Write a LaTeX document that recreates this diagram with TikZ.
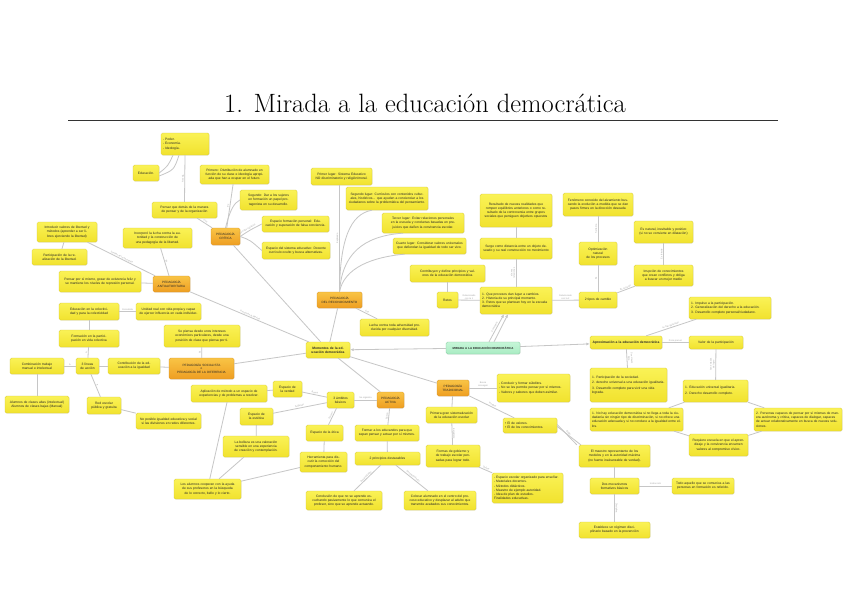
\documentclass[tikz,border=0pt]{standalone}
\usepackage{fontspec}
\newfontfamily\nodefont{Liberation Sans}
\usetikzlibrary{arrows.meta,shadows}
\definecolor{yTop}{HTML}{FAF256}
\definecolor{yBot}{HTML}{F1E22E}
\definecolor{yDraw}{HTML}{D6C838}
\definecolor{oTop}{HTML}{F9C445}
\definecolor{oBot}{HTML}{EE9E22}
\definecolor{oDraw}{HTML}{D6922A}
\definecolor{gTop}{HTML}{C6F6D8}
\definecolor{gBot}{HTML}{A8EBC2}
\definecolor{gDraw}{HTML}{86C9A0}
\definecolor{lineGray}{HTML}{C6C6C6}
\definecolor{lblGray}{HTML}{A5A5A5}
\newcommand\fsNode{\nodefont\fontsize{3.3}{4.2}\selectfont}
\newcommand\fsOrange{\nodefont\fontsize{3.1}{3.8}\selectfont}
\newcommand\fsGreen{\nodefont\fontsize{2.9}{3.5}\selectfont\bfseries}
\newcommand\fsLabel{\nodefont\fontsize{2.3}{2.7}\selectfont}
\newcommand\cnode[8][]{%
  \pgfmathsetmacro\cx{(#4+#6)/2}\pgfmathsetmacro\cy{(#5+#7)/2}%
  \pgfmathsetmacro\cw{#6-#4}\pgfmathsetmacro\ch{#7-#5}\pgfmathsetmacro\tw{#6-#4-4}%
  \node[#2, minimum width=\cw pt, minimum height=\ch pt, text width=\tw pt, #1] (#3) at (\cx,\cy) {#8};}
\tikzset{
  base/.style={rounded corners=1.5pt, draw=yDraw, line width=0.35pt, top color=yTop, bottom color=yBot,
    inner xsep=2pt, inner ysep=0.5pt, font=\fsNode, text=black!85, align=center,
    drop shadow={opacity=0.18, shadow xshift=0.5pt, shadow yshift=-0.6pt}},
  yb/.style={base},
  yl/.style={base, align=left},
  ob/.style={base, draw=oDraw, top color=oTop, bottom color=oBot, font=\fsOrange},
  gb/.style={base, draw=gDraw, top color=gTop, bottom color=gBot, font=\fsGreen},
  edge/.style={draw=lineGray, line width=0.8pt},
  arr/.style={-{Latex[length=3.5pt,width=3pt]}},
  lbl/.style={font=\fsLabel, text=lblGray, sloped, above, inner sep=0.6pt, align=center},
}
\begin{document}
\begin{tikzpicture}[x=1pt,y=-1pt]
\useasboundingbox[fill=white] (0,0) rectangle (848,599);
% title
\node[font=\fontsize{26.5}{31}\selectfont] (title) at (425,103) {1. Mirada a la educación democrática};
\coordinate (ruleL) at (68,120);
\coordinate (ruleR) at (778,120);
\draw[line width=0.5pt, black!80] (ruleL) -- (ruleR);

% ---- nodes ----
\cnode{yl}{n1}{161}{133}{209}{155}{- Poder.\\- Economía.\\- Ideología.}
\cnode{yb}{n2}{133}{165}{159}{181}{Educación.}
\cnode{yb}{n3}{152}{202}{217}{218}{Pensar que detrás de la manera de pensar y de la organización}
\cnode{ob}{n4}{211}{228}{240}{245}{PEDAGOGÍA\\CRÍTICA}
\cnode{yb}{n5}{200}{165}{269}{184}{Primero: Distribución de alumnado en función de su clase e ideología apropiada que han a ocupar en el futuro.}
\cnode{yb}{n6}{240}{190}{297}{210}{Segundo: Dar a los sujetos en formación un papel protagonista en su desarrollo.}
\cnode{yb}{n7}{262}{216}{329}{232}{Espacio formación personal: Educación y superación de falsa conciencia.}
\cnode{yb}{n8}{262}{242}{330}{259}{Espacio del sistema educativo: Docente currículo oculto y busca alternativas.}
\cnode{yb}{n9}{37}{222}{97}{242}{Introducir valores de libertad y métodos (aprender a ser libres ejerciendo la libertad)}
\cnode{yb}{n10}{32}{249}{87}{265}{Participación de la realización de la libertad.}
\cnode{yb}{n11}{123}{228}{192}{248}{Incorporó la lucha contra la autoridad y la construcción de una pedagogía de la libertad.}
\cnode{ob}{n12}{153}{276}{190}{292}{PEDAGOGÍA\\ANTIAUTORITARIA}
\cnode{yb}{n13}{59}{271}{141}{292}{Pensar por sí mismo, gozar de existencia feliz y se mantiene los niveles de represión personal.}
\cnode{yb}{n14}{59}{303}{119}{320}{Educación en la colectividad y para la colectividad}
\cnode{yb}{n15}{136}{303}{201}{320}{Unidad real con vida propia y capaz de ejercer influencia en cada individuo.}
\cnode{yb}{n16}{59}{330}{119}{347}{Formación en la participación en vida colectiva}
\cnode{yb}{n17}{10}{358}{64}{374}{Combinación trabajo manual e intelectual}
\cnode{yb}{n18}{76}{358}{99}{374}{3 líneas de acción}
\cnode{yb}{n19}{108}{358}{160}{374}{Contribución de la educación a la igualdad}
\cnode{ob}{n20}{169}{358}{234}{379}{PEDAGOGÍA SOCIALISTA\\o\\PEDAGOGÍA DE LA DIFERENCIA}
\cnode{yb}{n21}{164}{325}{240}{347}{Se piensa desde unos intereses económicos particulares, desde una posición de clase que piensa por ti.}
\cnode{yb}{n22}{5}{396}{69}{413}{Alumnos de clases altas (intelectual)\\Alumnos de clases bajas (Manual)}
\cnode{yb}{n23}{87}{397}{121}{414}{Red escolar\\pública y gratuita}
\cnode{yb}{n24}{136}{413}{201}{429}{No posible igualdad educativa y social si las divisiones en redes diferentes.}
\cnode{yb}{n25}{191}{385}{267}{402}{Aplicación de método a un espacio de experiencias y de problemas a resolver.}
\cnode{yb}{n26}{273}{381}{302}{397}{Espacio de la verdad}
\cnode{yb}{n27}{240}{408}{273}{425}{Espacio de la estética}
\cnode{yb}{n28}{223}{436}{289}{457}{La belleza es una valoración sensible en una experiencia de creación y contemplación.}
\cnode{yb}{n29}{174}{479}{241}{499}{Los alumnos cooperan con la ayuda de sus profesores en la búsqueda de lo correcto, bello y lo cierto.}
\cnode{yb}{n30}{327}{392}{354}{408}{3 ámbitos\\básicos}
\cnode{yb}{n31}{306}{425}{343}{441}{Espacio de la ética}
\cnode{yb}{n32}{300}{452}{347}{472}{Herramienta para discutir la corrección del comportamiento humano.}
\cnode{ob}{n33}{377}{392}{404}{408}{PEDAGOGÍA\\ACTIVA}
\cnode{yb}{n34}{355}{425}{419}{441}{Formar a los educandos para que sepan pensar y actuar por sí mismos.}
\cnode{yb}{n35}{355}{452}{420}{465}{2 principios destacables}
\cnode{yb}{n36}{306}{491}{382}{510}{Conclusión de que no se aprende escuchando pasivamente lo que comunica el profesor, sino que se aprende actuando.}
\cnode{yb}{n37}{404}{491}{476}{510}{Colocar alumnado en el centro del proceso educativo y desplazar al adulto que transmite acabados sus conocimientos.}
\cnode[font=\fsNode\bfseries]{yb}{n38}{306}{342}{350}{358}{Momentos de la educación democrática}
\cnode{ob}{n39}{317}{292}{362}{308}{PEDAGOGÍA\\DEL RECONOCIMIENTO}
\cnode{yb}{n40}{311}{168}{372}{185}{Primer lugar: Sistema Educativo NO discriminatorio y religión/moral.}
\cnode{yb}{n41}{346}{187}{428}{210}{Segundo lugar: Currículos con contenidos culturales, históricos... que ayuden a concienciar a los ciudadanos sobre la problemática del pensamiento.}
\cnode{yb}{n42}{382}{213}{464}{233}{Tercer lugar: Evitar relaciones personales en la escuela y conductas basadas en prejuicios que dañen la convivencia escolar.}
\cnode{yb}{n43}{393}{238}{466}{254}{Cuarto lugar: Considerar valores universales que defiendan la igualdad de todo ser vivo.}
\cnode{yb}{n44}{360}{319}{429}{336}{Lucha contra toda adversidad producida por cualquier diversidad.}
\cnode{yb}{n45}{410}{265}{485}{282}{Contribuyen y define principios y valores de la educación democrática}
\cnode{yb}{n46}{437}{292}{458}{308}{Retos}
\cnode{yl}{n47}{480}{287}{552}{314}{1. Que procesos dan lugar a cambios.\\2. Historia de su principal momento.\\3. Retos que se plantean hoy en la escuela democrática}
\cnode{gb}{n48}{446}{342}{520}{354}{MIRADA A LA EDUCACIÓN DEMOCRÁTICA}
\cnode{yb}{n49}{480}{194}{552}{227}{Resultado de nuevas realidades que rompen equilibrios anteriores o como resultado de la controversia entre grupos sociales que persiguen objetivos opuestos}
\cnode{yb}{n50}{480}{238}{552}{259}{Surge como distancia entre un objeto deseado y su real construcción no movimiento}
\cnode{yb}{n51}{563}{193}{633}{216}{Fenómeno conocido del alzamiento buscando la evolución a medida que se dan pasos firmes en la dirección deseada}
\cnode{yb}{n52}{579}{242}{617}{265}{Optimización\\natural\\de los procesos}
\cnode{yb}{n53}{634}{221}{693}{243}{Es natural, inevitable y positivo (si no se convierte en dilatación)}
\cnode{yb}{n54}{579}{292}{617}{308}{2 tipos de cambio}
\cnode{yb}{n55}{634}{265}{693}{286}{Irrupción de conocimientos que crean conflictos y obliga a buscar un mejor medio}
\cnode{yl}{n56}{689}{297}{771}{319}{1. Impulso a la participación.\\2. Generalización del derecho a la educación.\\3. Desarrollo completo personal/ciudadano.}
\cnode[font=\fsNode\bfseries]{yb}{n57}{590}{336}{662}{349}{Aproximación a la educación democrática}
\cnode{yb}{n58}{689}{336}{743}{349}{Valor de la participación}
\cnode{yl}{n59}{590}{368}{667}{402}{1. Participación de la sociedad.\\[1.5pt]2. derecho universal a una educación igualitaria.\\[1.5pt]3. Desarrollo completo para vivir una vida lograda.}
\cnode{yl}{n60}{683}{380}{748}{402}{1. Educación universal igualitaria.\\[2pt]2. Derecho desarrollo completo.}
\cnode{yl}{n61}{590}{408}{683}{431}{1. No hay educación democrática si no llega a toda la ciudadanía sin ningún tipo de discriminación, si no ofrece una educación adecuada y si no conduce a la igualdad entre ellos.}
\cnode{yl}{n62}{754}{408}{842}{431}{2. Personas capaces de pensar por sí mismas de manera autónoma y crítica, capaces de dialogar, capaces de actuar colaborativamente en busca de nuevas soluciones.}
\cnode{yb}{n63}{689}{434}{748}{456}{Requiere escuela en que el aprendizaje y la convivencia encarnen valores al compromiso cívico.}
\cnode{ob}{n64}{437}{380}{469}{396}{PEDAGOGÍA\\TRADICIONAL}
\cnode{yl}{n65}{497}{374}{570}{402}{- Conducir y formar súbditos.\\- No se les permite pensar por sí mismos.\\- Valores y saberes que deben asimilar.}
\cnode{yb}{n66}{426}{407}{477}{423}{Primera gran sistematización de la educación escolar}
\cnode{yl}{n67}{503}{418}{557}{433}{• El de valores.\\• El de los conocimientos.}
\cnode{yb}{n68}{426}{445}{480}{467}{Formas de gobierno y de trabajo escolar pensadas para lograr todo.}
\cnode{yl}{n69}{492}{473}{563}{503}{- Espacio escolar organizado para enseñar.\\- Materiales docentes.\\- Métodos didácticos.\\- Maestro de ejemplo autoridad.\\- Idea de plan de estudios.\\Finalidades educativas.}
\cnode{yb}{n70}{579}{445}{650}{467}{El maestro representante de los modelos y en la autoridad máxima (no fuente inalcanzable de verdad).}
\cnode{yb}{n71}{590}{478}{639}{494}{Dos mecanismos\\formativos básicos}
\cnode{yb}{n72}{672}{478}{734}{494}{Todo aquello que se comunica a las personas en formación es referido.}
\cnode{yb}{n73}{579}{522}{650}{538}{Establece un régimen disciplinario basado en la prevención}

% ---- connectors ----
\draw[edge] ([xshift=-12pt]n1.south) .. controls (168,166) .. (n2.east);
\draw[edge] ([xshift=-6pt]n1.south) .. controls (174,170) .. ([yshift=-3pt]n2.east);
\draw[edge] (n1.south) -- node[lbl]{Revela} (n3.north);
\draw[edge] (n3) -- node[lbl]{Con} (n4);
\draw[edge] (n4) -- node[lbl]{Es} (n5);
\draw[edge] (n4.north) .. controls (230,210) and (234,203) .. (n6.west);
\draw[edge] (n4.east) .. controls (250,230) .. node[lbl, pos=0.4]{Con dos espacios} (n7.west);
\draw[edge] (n4.east) .. controls (250,240) .. (n8.west);
\draw[edge] (n4) -- (n38);
\draw[edge] (n11) -- node[lbl]{Es} (n12);
\draw[edge] (n9) -- node[lbl]{Sentido de la educación} (n12);
\draw[edge] (n10) -- (n9);
\draw[edge] (n13) -- (n12);
\draw[edge] (n12) -- node[lbl]{Promueve la libertad} (n38);
\draw[edge] (n14) -- node[lbl]{Concebida} (n15);
\draw[edge] (n14) -- (n16);
\draw[edge] (n16) -- node[lbl]{A} (n18);
\draw[edge] (n18) -- node[lbl]{A} (n17);
\draw[edge] (n18) -- (n19);
\draw[edge] (n18) -- node[lbl]{A} (n23);
\draw[edge] (n17) -- (n22);
\draw[edge] (n23) -- (n24);
\draw[edge] (n19) -- (n20);
\draw[edge] (n20) -- node[lbl]{Es} (n21);
\draw[edge] (n20) -- (n38);
\draw[edge] (n25) -- (n26);
\draw[edge] (n25) -- (n29);
\draw[edge] (n26) -- node[lbl]{Busca} (n30);
\draw[edge] (n27) -- node[lbl]{Segundo} (n30);
\draw[edge] (n30) -- node[lbl]{Tercero} (n31);
\draw[edge] (n27) -- (n28);
\draw[edge] (n28) -- (n29);
\draw[edge] (n31) -- (n32);
\draw[edge] (n32) -- (n29);
\draw[edge] (n33) -- node[lbl]{Se organiza} (n30);
\draw[edge] (n33) -- node[lbl]{Busca} (n34);
\draw[edge] (n34) -- (n35);
\draw[edge] (n35) -- node[lbl]{Desarrollando} (n36);
\draw[edge] (n35) -- node[lbl]{Desplazamiento} (n37);
\draw[edge] (n38) -- (n33);
\draw[edge] (n38) -- (n64);
\draw[edge] (n38) -- (n39);
\draw[edge] (n39.north) -- node[lbl]{Explicado} (n39.north |- n40.south);
\draw[edge] (n39.north) .. controls (340,240) and (350,214) .. ([xshift=-15pt]n41.south);
\draw[edge] (n39.north) .. controls (342,255) and (362,236) .. ([xshift=-20pt]n42.south);
\draw[edge] (n39.north) .. controls (344,268) and (372,257) .. ([xshift=-25pt]n43.south);
\draw[edge] (n39) -- node[lbl]{Con} (n44);
\draw[edge,arr] (n48) -- (n38);
\draw[edge,arr] ([xshift=6pt]n48.north) -- node[lbl]{Conceptos} ([xshift=-12pt]n47.south);
\draw[edge,arr] ([xshift=11pt]n48.north) -- ([xshift=-8pt]n47.south);
\draw[edge,arr] (n48) -- (n57);
\draw[edge] (n47) -- node[lbl]{Relacionado\\con la 1} (n46);
\draw[edge] (n46) -- (n45);
\draw[edge] (n47) -- node[lbl]{a la vez\\relaciones} (n50);
\draw[edge] (n50) -- (n49);
\draw[edge] (n47) -- node[lbl]{Relacionado\\con la 2} (n54);
\draw[edge] (n54) -- node[lbl]{Es} (n52);
\draw[edge] (n52) -- node[lbl]{Se llama} (n51);
\draw[edge] (n54) -- node[lbl]{Es correcto} (n55);
\draw[edge] (n55) -- node[lbl]{Es fortuito} (n53);
\draw[edge] (n57) -- node[lbl]{Le han generado} (n56);
\draw[edge] (n57) -- node[lbl]{Pone para el} (n58);
\draw[edge] (n57) -- node[lbl]{Son claves\\para} (n59);
\draw[edge] (n58) -- node[lbl]{Son estados\\de logro} (n60);
\draw[edge] (n60) -- (n61);
\draw[edge] (n60) -- (n62);
\draw[edge] (n61) -- (n63);
\draw[edge] (n62) -- (n63);
\draw[edge] (n64) -- node[lbl]{Busca\\conseguir} (n65);
\draw[edge] (n64) -- (n66);
\draw[edge] (n64) -- node[lbl]{Rasgos} (n67);
\draw[edge] ([yshift=1pt]n67.east) -- node[lbl]{Exige} ([xshift=-2pt]n70.north west);
\draw[edge] ([yshift=-1pt]n67.east) -- ([xshift=2pt]n70.north west);
\draw[edge] (n66) -- node[lbl]{Establece} (n68);
\draw[edge] (n68) -- node[lbl]{Define} (n69);
\draw[edge] (n70) -- (n71);
\draw[edge] (n71) -- node[lbl]{Instrucción} (n72);
\draw[edge] (n71) -- node[lbl]{Disciplina} (n73);
\end{tikzpicture}
\end{document}
